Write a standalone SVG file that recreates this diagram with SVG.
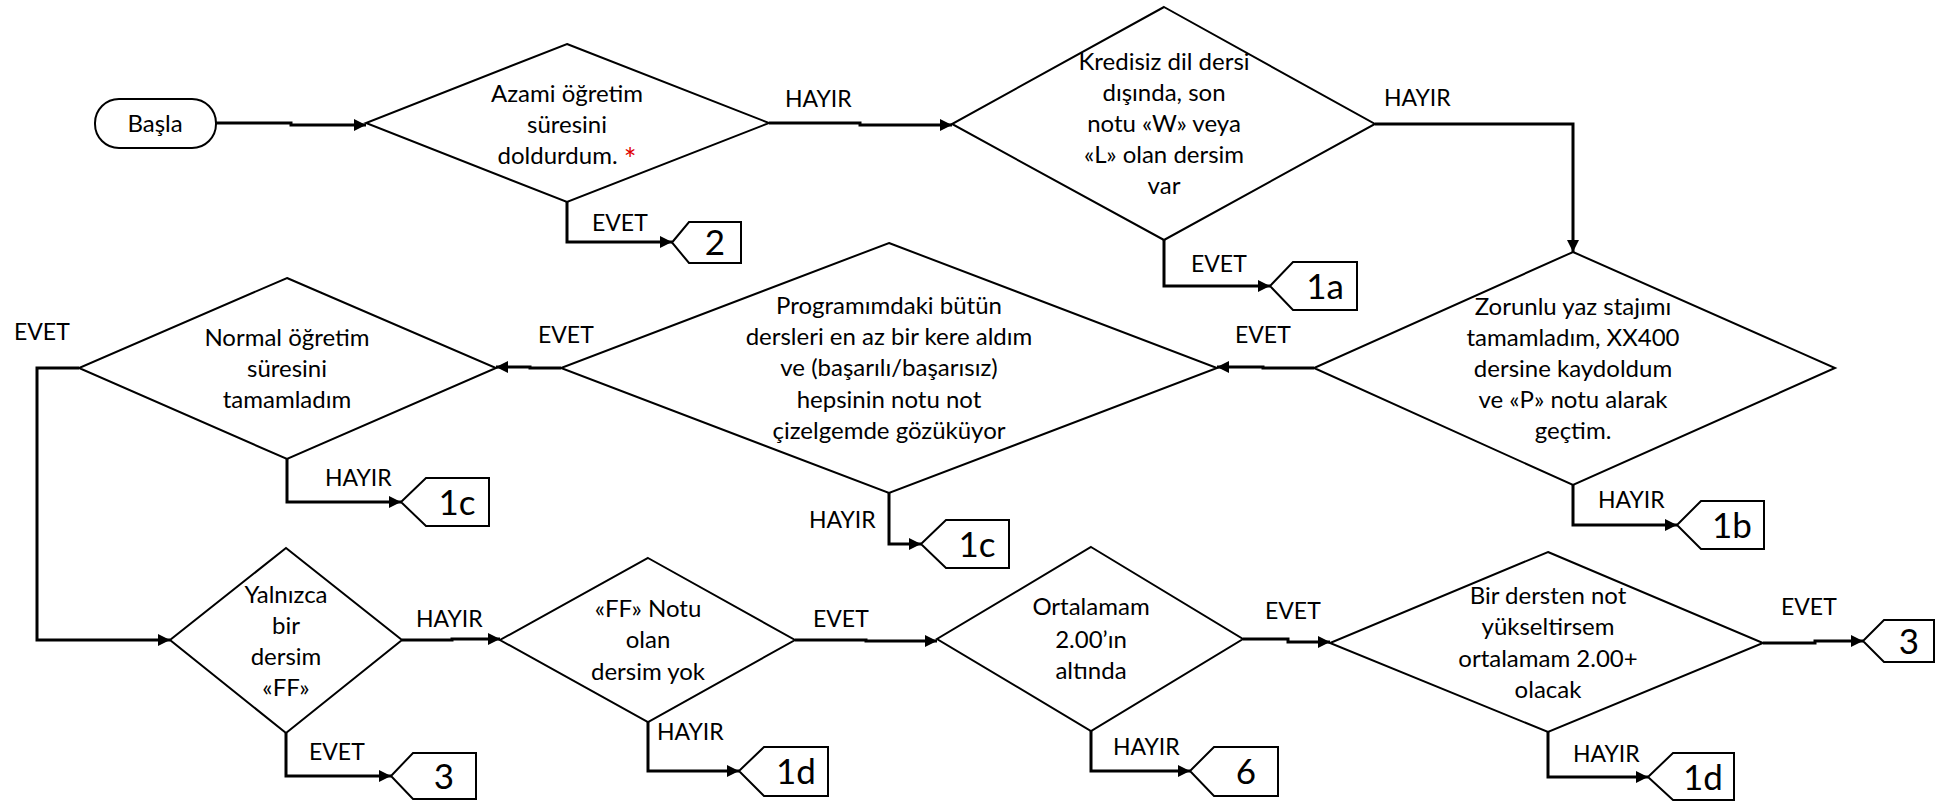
<svg xmlns="http://www.w3.org/2000/svg" width="1940" height="801" viewBox="0 0 1940 801">
<defs>
<style>
.shape{fill:#fff;stroke:#000;stroke-width:2;stroke-linejoin:miter}
.conn{fill:none;stroke:#000;stroke-width:3}
.t{font-family:Lato,"Liberation Sans",sans-serif;font-size:24px;fill:#000;text-anchor:middle}
.lbl{font-family:Lato,"Liberation Sans",sans-serif;font-size:23px;fill:#000}
.num{font-family:Lato,"Liberation Sans",sans-serif;font-size:35px;fill:#000;text-anchor:middle}
.red{fill:#e00000;font-size:30px}
</style>
<marker id="ah" viewBox="0 0 12 12" refX="12" refY="6" markerWidth="12" markerHeight="12" markerUnits="userSpaceOnUse" orient="auto">
<path d="M0,0 L12,6 L0,12 Z" fill="#000"/>
</marker>
</defs>
<rect width="1940" height="801" fill="#fff"/>

<g id="connectors">
<path class="conn" marker-end="url(#ah)" d="M216,123 H291 V125 H366"/>
<path class="conn" marker-end="url(#ah)" d="M769,123 H860 V125 H952"/>
<path class="conn" marker-end="url(#ah)" d="M567,202 V242 H672"/>
<path class="conn" marker-end="url(#ah)" d="M1375,124 H1573 V252"/>
<path class="conn" marker-end="url(#ah)" d="M1164,240 V286 H1270"/>
<path class="conn" marker-end="url(#ah)" d="M1314,368 H1263 V367 H1217"/>
<path class="conn" marker-end="url(#ah)" d="M1573,485 V525 H1677"/>
<path class="conn" marker-end="url(#ah)" d="M561,368 H530 V367 H496"/>
<path class="conn" marker-end="url(#ah)" d="M889,493 V544 H921"/>
<path class="conn" marker-end="url(#ah)" d="M287,459 V502 H401"/>
<path class="conn" marker-end="url(#ah)" d="M79,368 H37 V640 H170"/>
<path class="conn" marker-end="url(#ah)" d="M402,640 H452 V639 H500"/>
<path class="conn" marker-end="url(#ah)" d="M286,733 V776 H391"/>
<path class="conn" marker-end="url(#ah)" d="M795,640 H866 V641 H937"/>
<path class="conn" marker-end="url(#ah)" d="M648,722 V771 H739"/>
<path class="conn" marker-end="url(#ah)" d="M1243,639 H1288 V642 H1330"/>
<path class="conn" marker-end="url(#ah)" d="M1091,731 V771 H1190"/>
<path class="conn" marker-end="url(#ah)" d="M1763,643 H1815 V641 H1863"/>
<path class="conn" marker-end="url(#ah)" d="M1548,732 V777 H1648"/>
<text class="lbl" x="785" y="107">HAYIR</text>
<text class="lbl" x="1384" y="106">HAYIR</text>
<text class="lbl" x="592" y="231">EVET</text>
<text class="lbl" x="1191" y="272">EVET</text>
<text class="lbl" x="1235" y="343">EVET</text>
<text class="lbl" x="1598" y="508">HAYIR</text>
<text class="lbl" x="538" y="343">EVET</text>
<text class="lbl" x="809" y="528">HAYIR</text>
<text class="lbl" x="14" y="340">EVET</text>
<text class="lbl" x="325" y="486">HAYIR</text>
<text class="lbl" x="416" y="627">HAYIR</text>
<text class="lbl" x="309" y="760">EVET</text>
<text class="lbl" x="813" y="627">EVET</text>
<text class="lbl" x="657" y="740">HAYIR</text>
<text class="lbl" x="1265" y="619">EVET</text>
<text class="lbl" x="1113" y="755">HAYIR</text>
<text class="lbl" x="1781" y="615">EVET</text>
<text class="lbl" x="1573" y="762">HAYIR</text>
</g>

<g id="start">
<rect class="shape" x="95" y="99" width="121" height="49" rx="24" ry="24"/>
<text class="t" x="155" y="132">Başla</text>
</g>

<g id="d1">
<polygon class="shape" points="567,44 769,123 567,202 366,123"/>
<text class="t" x="567" y="102">Azami öğretim</text>
<text class="t" x="567" y="133">süresini</text>
<text class="t" x="567" y="164">doldurdum. <tspan class="red" dy="6">*</tspan></text>
</g>

<g id="d2">
<polygon class="shape" points="1164,7 1375,124 1164,240 952,124"/>
<text class="t" x="1164" y="70">Kredisiz dil dersi</text>
<text class="t" x="1164" y="101">dışında, son</text>
<text class="t" x="1164" y="132">notu «W» veya</text>
<text class="t" x="1164" y="163">«L» olan dersim</text>
<text class="t" x="1164" y="194">var</text>
</g>

<g id="d3">
<polygon class="shape" points="1573,252 1835,368 1573,485 1314,368"/>
<text class="t" x="1573" y="315">Zorunlu yaz stajımı</text>
<text class="t" x="1573" y="346">tamamladım, XX400</text>
<text class="t" x="1573" y="377">dersine kaydoldum</text>
<text class="t" x="1573" y="408">ve «P» notu alarak</text>
<text class="t" x="1573" y="439">geçtim.</text>
</g>

<g id="d4">
<polygon class="shape" points="889,243 1217,368 889,493 561,368"/>
<text class="t" x="889" y="314">Programımdaki bütün</text>
<text class="t" x="889" y="345">dersleri en az bir kere aldım</text>
<text class="t" x="889" y="376">ve (başarılı/başarısız)</text>
<text class="t" x="889" y="408">hepsinin notu not</text>
<text class="t" x="889" y="439">çizelgemde gözüküyor</text>
</g>

<g id="d5">
<polygon class="shape" points="287,278 496,368 287,459 79,368"/>
<text class="t" x="287" y="346">Normal öğretim</text>
<text class="t" x="287" y="377">süresini</text>
<text class="t" x="287" y="408">tamamladım</text>
</g>

<g id="d6">
<polygon class="shape" points="286,548 402,640 286,733 170,640"/>
<text class="t" x="286" y="603">Yalnızca</text>
<text class="t" x="286" y="634">bir</text>
<text class="t" x="286" y="665">dersim</text>
<text class="t" x="286" y="696">«FF»</text>
</g>

<g id="d7">
<polygon class="shape" points="648,558 795,640 648,722 500,640"/>
<text class="t" x="648" y="617">«FF» Notu</text>
<text class="t" x="648" y="648">olan</text>
<text class="t" x="648" y="680">dersim yok</text>
</g>

<g id="d8">
<polygon class="shape" points="1091,547 1243,639 1091,731 937,639"/>
<text class="t" x="1091" y="615">Ortalamam</text>
<text class="t" x="1091" y="648">2.00’ın</text>
<text class="t" x="1091" y="679">altında</text>
</g>

<g id="d9">
<polygon class="shape" points="1548,552 1763,643 1548,732 1330,643"/>
<text class="t" x="1548" y="604">Bir dersten not</text>
<text class="t" x="1548" y="635">yükseltirsem</text>
<text class="t" x="1548" y="667">ortalamam 2.00+</text>
<text class="t" x="1548" y="698">olacak</text>
</g>

<g id="b2">
<path class="shape" d="M672,242.5 L689,222 H741 V263 H689 Z"/>
<text class="num" x="715" y="255">2</text>
</g>
<g id="b1a">
<path class="shape" d="M1270,286 L1293,262 H1357 V310 H1293 Z"/>
<text class="num" x="1325" y="299">1a</text>
</g>
<g id="b1b">
<path class="shape" d="M1677,525 L1701,501 H1764 V549 H1701 Z"/>
<text class="num" x="1732" y="538">1b</text>
</g>
<g id="b1c-left">
<path class="shape" d="M401,502 L426,478 H489 V526 H426 Z"/>
<text class="num" x="457" y="515">1c</text>
</g>
<g id="b1c-mid">
<path class="shape" d="M921,544 L946,520 H1009 V568 H946 Z"/>
<text class="num" x="977" y="557">1c</text>
</g>
<g id="b3-left">
<path class="shape" d="M391,776 L413,753 H476 V799 H413 Z"/>
<text class="num" x="444" y="789">3</text>
</g>
<g id="b1d-left">
<path class="shape" d="M739,771 L764,747 H828 V796 H764 Z"/>
<text class="num" x="796" y="784">1d</text>
</g>
<g id="b6">
<path class="shape" d="M1190,771 L1214,747 H1278 V796 H1214 Z"/>
<text class="num" x="1246" y="784">6</text>
</g>
<g id="b3-right">
<path class="shape" d="M1863,641 L1884,620 H1934 V662 H1884 Z"/>
<text class="num" x="1909" y="654">3</text>
</g>
<g id="b1d-right">
<path class="shape" d="M1648,777 L1673,753 H1734 V800 H1673 Z"/>
<text class="num" x="1703" y="790">1d</text>
</g>
</svg>
